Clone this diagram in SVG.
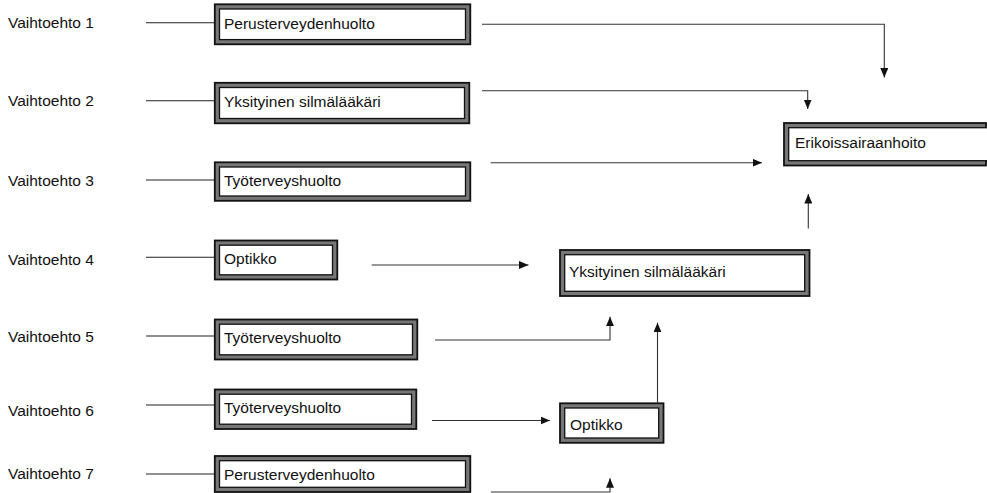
<svg xmlns="http://www.w3.org/2000/svg" width="987" height="493" viewBox="0 0 987 493">
  <style>
    .lbl { font-family: "Liberation Sans", Arial, sans-serif; font-size: 15.5px; fill: #111; }
    .frame { fill: #777; stroke: #111; stroke-width: 1.8; }
    .inner { fill: #fff; stroke: #111; stroke-width: 1.3; }
    .lead { fill: none; stroke: #222; stroke-width: 1.1; }
    .conn { fill: none; stroke: #333; stroke-width: 1.1; marker-end: url(#arrow); }
  </style>
  <defs>
    <marker id="arrow" markerUnits="userSpaceOnUse" markerWidth="11" markerHeight="9" refX="9.5" refY="4" orient="auto">
      <path d="M0,0 L9.5,4 L0,8 z" fill="#111"/>
    </marker>
  </defs>
  <rect width="987" height="493" fill="#fff"/>

  <!-- option labels with lead lines -->
  <g id="options">
    <text class="lbl" x="8" y="28">Vaihtoehto 1</text>
    <text class="lbl" x="8" y="106">Vaihtoehto 2</text>
    <text class="lbl" x="8" y="186">Vaihtoehto 3</text>
    <text class="lbl" x="8" y="265">Vaihtoehto 4</text>
    <text class="lbl" x="8" y="342">Vaihtoehto 5</text>
    <text class="lbl" x="8" y="416">Vaihtoehto 6</text>
    <text class="lbl" x="8" y="479">Vaihtoehto 7</text>
    <path class="lead" d="M146,22.7H214 M146,100.7H214 M146,180H214 M146,257.3H214 M146,336H214 M146,405H214 M146,474H214"/>
  </g>

  <g id="n1">
    <rect class="frame" x="214.8" y="4.3" width="255.5" height="40"/>
    <rect class="inner" x="219.5" y="9" width="246" height="30.6"/>
    <text class="lbl" x="224" y="28.5">Perusterveydenhuolto</text>
  </g>
  <g id="n2">
    <rect class="frame" x="214.8" y="82.8" width="254.5" height="40.5"/>
    <rect class="inner" x="219.5" y="87.5" width="245" height="31"/>
    <text class="lbl" x="224" y="107">Yksityinen silmälääkäri</text>
  </g>
  <g id="n3">
    <rect class="frame" x="214.8" y="162.3" width="255.5" height="38.5"/>
    <rect class="inner" x="219.5" y="167" width="246" height="29"/>
    <text class="lbl" x="224" y="186">Työterveyshuolto</text>
  </g>
  <g id="n4">
    <rect class="frame" x="214.8" y="240.5" width="122.5" height="39"/>
    <rect class="inner" x="219.5" y="245.2" width="113" height="29.6"/>
    <text class="lbl" x="224" y="264">Optikko</text>
  </g>
  <g id="n5">
    <rect class="frame" x="214.8" y="319.5" width="202.5" height="40"/>
    <rect class="inner" x="219.5" y="324.2" width="193" height="30.6"/>
    <text class="lbl" x="224" y="343">Työterveyshuolto</text>
  </g>
  <g id="n6">
    <rect class="frame" x="214.8" y="389.5" width="201.5" height="39.5"/>
    <rect class="inner" x="219.5" y="394.2" width="192" height="30"/>
    <text class="lbl" x="224" y="413">Työterveyshuolto</text>
  </g>
  <g id="n7">
    <rect class="frame" x="214.8" y="456" width="255.5" height="36"/>
    <rect class="inner" x="219.5" y="460.7" width="246" height="26.6"/>
    <text class="lbl" x="224" y="480">Perusterveydenhuolto</text>
  </g>
  <g id="n8">
    <rect class="frame" x="784" y="123" width="202" height="42.5"/>
    <rect class="inner" x="788.7" y="127.7" width="200" height="33"/>
    <text class="lbl" x="795" y="148">Erikoissairaanhoito</text>
  </g>
  <g id="n9">
    <rect class="frame" x="560" y="250" width="249.5" height="46"/>
    <rect class="inner" x="564.7" y="254.7" width="240" height="36.6"/>
    <text class="lbl" x="569" y="277">Yksityinen silmälääkäri</text>
  </g>
  <g id="n10">
    <rect class="frame" x="560" y="403.3" width="103.5" height="39.5"/>
    <rect class="inner" x="564.7" y="408" width="94" height="30"/>
    <text class="lbl" x="570" y="429.5">Optikko</text>
  </g>

  <g id="connectors">
    <path class="conn" d="M482,24.3H884.3V77.5"/>
    <path class="conn" d="M482,90.7H807.7V109"/>
    <path class="conn" d="M490.7,162.7H762"/>
    <path class="conn" d="M808.3,228.5V194"/>
    <path class="conn" d="M371.7,265H528.5"/>
    <path class="conn" d="M435,340H610V316.7"/>
    <path class="conn" d="M657.5,403.3V322.7"/>
    <path class="conn" d="M432,420.5H550"/>
    <path class="conn" d="M491,492H610V478.3"/>
  </g>
</svg>
